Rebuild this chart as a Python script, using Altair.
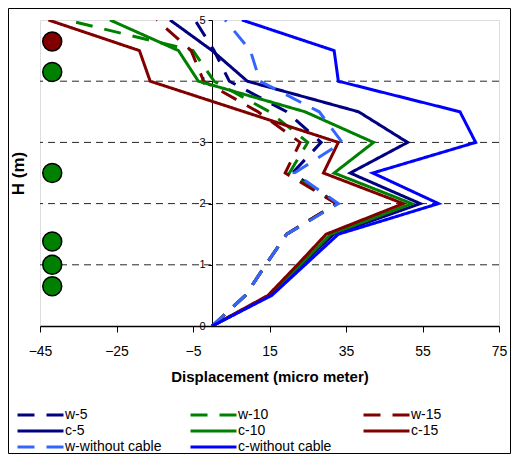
import altair as alt
import pandas as pd

# ---- data ----
heights = [0, 0.5, 1, 1.5, 2, 2.5, 3, 3.5, 4, 4.5, 5]

w_5 = [0, 8.7, 14.0, 19.5, 32.5, 21.0, 28.5, 19.5, 4.5, 0.5, -4.5]
w_10 = [0, 8.7, 14.0, 19.5, 32.5, 20.2, 25.0, 15.0, 0.5, -5.0, -38.0]
w_15 = [0, 8.7, 14.0, 19.5, 32.5, 19.1, 23.0, 12.0, -2.2, -5.5, -14.5]
c_5 = [0, 15.2, 23.3, 31.8, 54.4, 36.1, 51.1, 38.3, 9.2, 0.0, -11.0]
c_10 = [0, 15.0, 23.0, 31.0, 52.2, 31.9, 42.2, 24.3, -3.6, -8.8, -26.7]
c_15 = [0, 14.6, 22.3, 29.8, 50.0, 29.1, 33.0, 8.4, -16.2, -19.0, -42.8]
w_wc = [0, 8.7, 14.0, 19.5, 33.0, 21.5, 34.0, 28.0, 12.5, 10.0, 3.4]
c_wc = [0, 15.6, 24.3, 33.0, 59.2, 42.0, 68.9, 64.8, 33.0, 31.9, 7.8]

series_names = ["w-5", "w-10", "w-15", "c-5", "c-10", "c-15",
                "w-without cable", "c-without cable"]
series_values = [w_5, w_10, w_15, c_5, c_10, c_15, w_wc, c_wc]

marker_disp = [-41.8, -41.8, -41.8, -41.8, -41.8, -41.8]
marker_h = [4.65, 4.15, 2.5, 1.38, 1.0, 0.65]
marker_group = ["A", "B", "B", "B", "B", "B"]

grid_h = [1, 2, 3, 4]
x_ticks = [-45, -25, -5, 15, 35, 55, 75]
y_ticks = [0, 1, 2, 3, 4, 5]

# ---- tables ----
rows = []
for name, vals in zip(series_names, series_values):
    for h, d in zip(heights, vals):
        rows.append({"series": name, "h": h, "disp": d})
lines_df = pd.DataFrame(rows)
markers_df = pd.DataFrame({"disp": marker_disp, "h": marker_h, "grp": marker_group})
grid_df = pd.DataFrame({"h": grid_h})

colors = ["#000080", "#008000", "#800000", "#000080", "#008000", "#800000",
          "#3366FF", "#0000FF"]
dashes = [[17, 12], [17, 12], [17, 12], [1, 0], [1, 0], [1, 0], [17, 12], [1, 0]]

FONT = "Liberation Sans"

x_enc = alt.X(
    "disp:Q",
    scale=alt.Scale(domain=[-45, 75], nice=False, zero=False),
    axis=alt.Axis(
        values=x_ticks, title="Displacement (micro meter)", grid=False,
        domainColor="black", domainWidth=1.5, tickColor="black", tickSize=6,
        labelFontSize=14, labelFont=FONT, labelColor="black", labelPadding=12,
        labelFlush=False, titleFont=FONT, titleFontSize=15, titleFontWeight="bold",
        titleColor="black", titleY=50, titleBaseline="middle",
    ),
)
y_enc = alt.Y(
    "h:Q",
    scale=alt.Scale(domain=[0, 5], nice=False),
    axis=alt.Axis(
        values=y_ticks, title="H (m)", grid=False, offset=-172,
        domainColor="black", domainWidth=1, tickColor="black", tickSize=4,
        labelFontSize=11, labelFont=FONT, labelColor="black", labelPadding=3,
        titleFont=FONT, titleFontSize=17, titleFontWeight="bold", titleColor="black",
        titleX=-194, titleY=153, titleAngle=270, titleAlign="center",
        titleBaseline="middle",
    ),
)

legend = alt.Legend(
    title=None, orient="none", legendX=-24, legendY=387, columns=3,
    direction="horizontal",
    symbolType="stroke", symbolSize=2116, symbolStrokeWidth=3, clipHeight=16,
    labelFontSize=14, labelFont=FONT, labelColor="black", labelOffset=0,
    columnPadding=27, rowPadding=0, gridAlign="all", padding=0,
)

grid = alt.Chart(grid_df).mark_rule(
    color="black", strokeWidth=1, strokeDash=[7, 5], opacity=0.85
).encode(y=y_enc)

lines = alt.Chart(lines_df).mark_line(strokeWidth=3, clip=True).encode(
    x=x_enc,
    y=y_enc,
    color=alt.Color("series:N", scale=alt.Scale(domain=series_names, range=colors),
                    legend=legend),
    strokeDash=alt.StrokeDash("series:N",
                              scale=alt.Scale(domain=series_names, range=dashes),
                              legend=legend),
    order=alt.Order("h:Q"),
)

markers = alt.Chart(markers_df).mark_circle(
    size=360, stroke="black", strokeWidth=1.5, opacity=1
).encode(
    x=x_enc,
    y=y_enc,
    fill=alt.Fill("grp:N", scale=alt.Scale(domain=["A", "B"], range=["#800000", "#008000"]),
                  legend=None),
)

frame = alt.Chart(pd.DataFrame({"k": [0]})).mark_rect(
    fillOpacity=0, stroke="black", strokeWidth=1
).encode(
    x=alt.value(-31.5), x2=alt.value(470.5), y=alt.value(-11.5), y2=alt.value(433.5)
)

chart = alt.layer(grid, lines, markers, frame).properties(
    width=459, height=306,
    autosize=alt.AutoSizeParams(type="none"),
    padding={"left": 32, "top": 12, "right": 12, "bottom": 128},
).configure_view(stroke="#888888", strokeWidth=1.5).configure(font=FONT)

chart.save("out.html", embed_options={"renderer": "svg", "actions": False})
